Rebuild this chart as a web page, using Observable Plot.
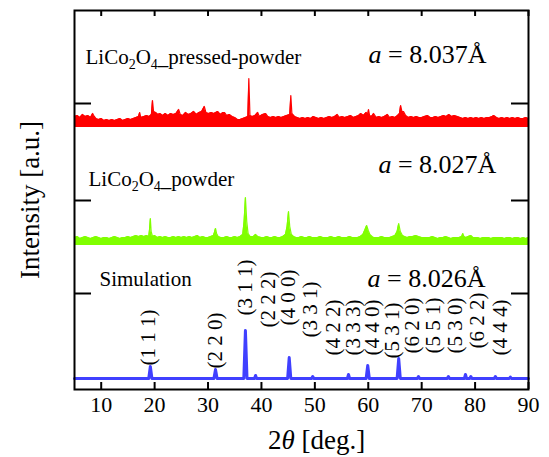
<!DOCTYPE html>
<html><head><meta charset="utf-8">
<script src="https://cdn.jsdelivr.net/npm/d3@7"></script>
<script src="https://cdn.jsdelivr.net/npm/@observablehq/plot@0.6"></script>
<style>
body{margin:0;background:#fff}
svg{font-family:"Liberation Serif","Times New Roman",serif}
</style>
</head><body><div id="chart"></div>
<script>
// ---- data (2θ in degrees, intensity in arbitrary units incl. vertical offsets) ----
const xTicks = [10, 20, 30, 40, 50, 60, 70, 80, 90];
const yTicks = [96, 189, 286];

const pressedFloor = 262;
const pressedPowder = [
[5,273],[5.5,274],[6,272],[6.5,275],[7,273],[7.5,274],[8,272],[8.4,276],[8.7,273],[9,271],[9.5,270],[10,271],[10.5,269],[11,270],[11.5,269],[12,270],[12.5,269],[13,270],[13.5,271],[14,269],[14.5,270],[15,271],[15.5,270],[16,271],[16.5,272],[17,273],[17.2,277],[17.4,272],[18,273],[18.5,274],[19,273],[19.4,275],[19.6,289],[19.8,278],[20.2,277],[20.6,275],[21,276],[21.5,274],[22,276],[22.5,274],[23,276],[23.5,275],[24,276],[24.5,280],[24.8,275],[25.3,274],[25.8,277],[26.3,275],[26.8,276],[27.3,278],[27.8,275],[28.3,277],[28.8,278],[29.3,283],[29.6,277],[30.1,276],[30.6,277],[31.1,276],[31.8,278],[32.3,275],[32.8,277],[33.1,277],[33.5,274],[34,275],[34.5,273],[35,272],[35.5,270],[36,270],[36.5,271],[37,272],[37.45,273],[37.64,311],[37.85,274],[38.3,273],[38.8,274],[39.3,277],[39.6,273],[40.2,275],[40.8,276],[41.2,273],[41.7,272],[42.2,273],[42.7,272],[43.2,273],[43.7,272],[44.2,273],[44.7,274],[45.3,275],[45.5,294],[45.7,276],[46.2,273],[46.7,272],[47.2,271],[47.7,272],[48.2,271],[48.7,272],[49.2,271],[49.7,273],[50.2,272],[50.7,271],[51.2,272],[51.7,271],[52.2,272],[52.7,273],[53.2,272],[53.7,273],[54.2,275],[54.6,272],[55.1,273],[55.6,272],[56.2,273],[56.7,274],[57.2,272],[57.7,273],[58.2,274],[58.6,276],[59.1,274],[59.6,277],[59.9,275],[60.05,280],[60.25,274],[60.6,273],[61,276],[61.5,272],[62,273],[62.5,272],[63,273],[63.6,275],[64,272],[64.5,273],[65,272],[65.5,274],[65.85,276],[66.05,284],[66.3,278],[66.6,278],[67,274],[67.5,272],[68,273],[68.5,272],[69,273],[69.5,272],[70,272],[70.5,273],[71.1,274],[71.6,272],[72.1,272],[72.6,273],[73.1,272],[73.6,273],[74.1,274],[74.6,273],[75.1,275],[75.6,273],[76.1,274],[76.7,273],[77.2,272],[77.7,271],[78.2,272],[78.7,271],[79.2,272],[79.7,271],[80.2,272],[80.7,271],[81.2,272],[81.7,271],[82.2,272],[82.7,272],[83.2,273],[83.5,274],[84,272],[84.5,271],[85,272],[85.5,271],[86,272],[86.5,271],[87,272],[87.5,271],[88,272],[88.5,271],[89,271],[89.5,272],[90,271]
];

const powderFloor = 144;
const powder = [
[5,152],[5.5,153],[6,151],[6.5,152],[7,153],[7.5,152],[8,151],[8.5,152],[9,153],[9.5,152],[10,151],[10.5,152],[11,152],[11.5,151],[12,152],[12.5,153],[13,152],[13.5,151],[14,152],[14.5,152],[15,153],[15.5,152],[16,153],[16.5,154],[17,153],[17.5,154],[18,153],[18.5,154],[18.9,153],[19.05,160],[19.2,171],[19.35,158],[19.6,153],[20,154],[20.5,152],[21,153],[21.5,152],[22,153],[22.5,152],[23,152],[23.5,153],[24,152],[24.5,153],[25,152],[25.5,153],[26,152],[26.5,153],[27,152],[27.5,153],[28,154],[28.5,152],[29,153],[29.5,152],[30,152],[30.5,153],[31,154],[31.2,157],[31.4,161],[31.6,156],[31.9,153],[32.4,152],[33,152],[33.5,153],[34,152],[34.5,152],[35,153],[35.5,152],[36,153],[36.5,155],[36.75,168],[37.0,192],[37.25,168],[37.5,156],[37.9,153],[38.5,153],[38.9,155],[39.3,153],[40,152],[40.5,152],[41,153],[41.5,152],[42,152],[42.5,153],[43,152],[43.5,152],[44,153],[44.5,155],[44.8,163],[45.07,178],[45.3,163],[45.6,155],[46,153],[46.5,152],[47,152],[47.5,153],[48,152],[48.5,152],[49,153],[49.5,152],[50,152],[50.5,152],[51,153],[51.5,152],[52,152],[52.5,152],[53,153],[53.5,152],[54,152],[54.5,153],[55,152],[55.5,152],[56,152],[56.5,153],[57,152],[57.5,152],[58,152],[58.5,153],[59,155],[59.4,160],[59.7,164],[60,159],[60.3,155],[60.7,153],[61,152],[61.5,152],[62,152],[62.5,153],[63,152],[63.5,152],[64,152],[64.5,153],[65,154],[65.4,158],[65.7,166],[66,158],[66.4,154],[66.8,153],[67.3,152],[67.8,153],[68.3,153],[68.9,154],[69.4,153],[70,152],[70.5,152],[71,152],[71.5,152],[72,153],[72.5,152],[73,151],[73.5,152],[74,152],[74.5,153],[75,152],[75.5,151],[76,152],[76.5,152],[77,152],[77.5,153],[77.7,156],[77.9,153],[78.3,152],[78.7,153],[79.2,154],[79.6,152],[80,152],[80.5,152],[81,151],[81.5,152],[82,152],[82.5,152],[83,151],[83.5,152],[84,152],[84.5,152],[85,152],[85.5,151],[86,152],[86.5,152],[87,151],[87.5,152],[88,152],[88.5,151],[89,152],[89.5,151],[90,152]
];

const simulation = [
[5,11],[18.9,11],[19.2,23],[19.5,11],[31.1,11],[31.4,20],[31.7,11],[36.7,11],[37.0,59],[37.3,11],[38.7,11],[38.9,14],[39.1,11],[44.9,11],[45.2,32],[45.5,11],[49.4,11],[49.6,13],[49.8,11],[56.1,11],[56.3,15],[56.5,11],[59.6,11],[59.9,24],[60.2,11],[65.4,11],[65.7,31],[66.0,11],[69.2,11],[69.4,13],[69.6,11],[74.8,11],[75,13],[75.2,11],[78.0,11],[78.2,15],[78.4,11],[79,11],[79.2,13],[79.4,11],[83.6,11],[83.8,13],[84,11],[86.4,11],[86.6,12.5],[86.8,11],[90,11]
];

const hklLabels = ["(1 1 1)","(2 2 0)","(3 1 1)","(2 2 2)","(4 0 0)","(3 3 1)","(4 2 2)","(3 3 3)","(4 4 0)","(5 3 1)","(6 2 0)","(5 5 1)","(5 3 0)","(6 2 2)","(4 4 4)"];
const hklTheta = [18.86, 31.40, 37.02, 41.32, 45.07, 49.19, 53.49, 57.24, 60.80, 64.54, 68.28, 72.22, 76.33, 80.45, 84.76];
const hklY = [24, 21, 74, 62, 64, 52, 34, 34, 34, 31, 36, 36, 36, 41, 34];

const sampleNames = ["LiCo2O4_pressed-powder", "LiCo2O4_powder", "Simulation"];
const latticeText = ["a = 8.037Å", "a = 8.027Å", "a = 8.026Å"];

// ---- chart ----
const RED = "#ff0000", GREEN = "#80ff00", BLUE = "#4040ff";
const hkl = hklLabels.map((t, i) => ({t, x: hklTheta[i], y: hklY[i]}));
const serif = "'Liberation Serif','Times New Roman',serif";

const chart = Plot.plot({
  width: 549, height: 457,
  marginTop: 10, marginBottom: 68, marginLeft: 74, marginRight: 21,
  style: {fontFamily: serif, background: "#fff", color: "#000"},
  x: {domain: [5, 90]},
  y: {domain: [0, 379], axis: null},
  marks: [
    Plot.areaY(pressedPowder, {x: d => d[0], y1: pressedFloor, y2: d => d[1], fill: RED}),
    Plot.line(pressedPowder, {x: d => d[0], y: d => d[1], stroke: RED, strokeWidth: 1.2}),
    Plot.areaY(powder, {x: d => d[0], y1: powderFloor, y2: d => d[1], fill: GREEN}),
    Plot.line(powder, {x: d => d[0], y: d => d[1], stroke: GREEN, strokeWidth: 1.2}),
    Plot.line(simulation, {x: d => d[0], y: d => d[1], stroke: BLUE, strokeWidth: 3}),
    Plot.text(hkl, {x: "x", y: "y", text: "t", rotate: -90, textAnchor: "start", lineAnchor: "middle", fontSize: 21, fill: "#000"}),
    // sample names
    Plot.text([sampleNames[0]], {x: 7.06, y: 326, text: d => d, textAnchor: "start", lineAnchor: "bottom", fontSize: 21}),
    Plot.text([sampleNames[1]], {x: 7.62, y: 204, text: d => d, textAnchor: "start", lineAnchor: "bottom", fontSize: 21}),
    Plot.text([sampleNames[2]], {x: 9.68, y: 104, text: d => d, textAnchor: "start", lineAnchor: "bottom", fontSize: 21}),
    Plot.text([latticeText[0]], {x: 60.05, y: 327, text: d => d, textAnchor: "start", lineAnchor: "bottom", fontSize: 26}),
    Plot.text([latticeText[1]], {x: 61.9, y: 217, text: d => d, textAnchor: "start", lineAnchor: "bottom", fontSize: 26}),
    Plot.text([latticeText[2]], {x: 59.86, y: 103, text: d => d, textAnchor: "start", lineAnchor: "bottom", fontSize: 26}),
    // ticks (inward)
    Plot.tickX(xTicks, {x: d => d, insetTop: 372, stroke: "#000", strokeWidth: 2}),
    Plot.tickX(xTicks, {x: d => d, insetBottom: 373, stroke: "#000", strokeWidth: 2}),
    Plot.tickY(yTicks, {y: d => d, insetRight: 437, stroke: "#000", strokeWidth: 2}),
    Plot.tickY(yTicks, {y: d => d, insetLeft: 437, stroke: "#000", strokeWidth: 2}),
    Plot.frame({stroke: "#000", strokeWidth: 2}),
    Plot.axisX({ticks: xTicks, tickSize: 0, tickPadding: 7, fontSize: 22, label: null}),
    Plot.text(["2θ [deg.]"], {frameAnchor: "bottom", textAnchor: "middle", lineAnchor: "bottom", dx: 15, dy: 59, text: d => d, fontSize: 27}),
    Plot.text(["Intensity [a.u.]"], {frameAnchor: "left", textAnchor: "middle", lineAnchor: "middle", dx: -44, rotate: -90, text: d => d, fontSize: 27})
  ]
});

// rich text: subscripts and italics
d3.select(chart).selectAll("text").each(function() {
  const t = this.textContent;
  const el = d3.select(this);
  if (t.startsWith("LiCo2O4")) {
    const rest = t.slice(7);
    el.text(null);
    el.append("tspan").text("LiCo");
    el.append("tspan").attr("font-size", 14).attr("dy", 5).text("2");
    el.append("tspan").attr("dy", -5).text("O");
    el.append("tspan").attr("font-size", 14).attr("dy", 5).text("4");
    el.append("tspan").attr("dy", -5).text(rest);
  } else if (t.startsWith("a = ")) {
    el.text(null);
    el.append("tspan").attr("font-style", "italic").text("a");
    el.append("tspan").text(t.slice(1));
  } else if (t.startsWith("2θ")) {
    el.text(null);
    el.append("tspan").text("2");
    el.append("tspan").attr("font-style", "italic").text("θ");
    el.append("tspan").text(t.slice(2));
  }
});
document.getElementById("chart").append(chart);
</script>
</body></html>
